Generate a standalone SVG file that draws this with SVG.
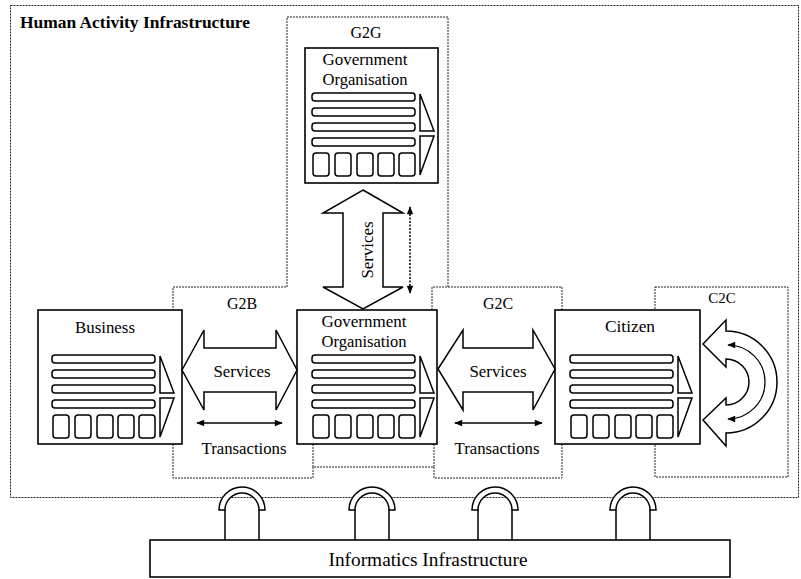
<svg xmlns="http://www.w3.org/2000/svg" width="801" height="579" viewBox="0 0 801 579">
<style>
.t{font-family:"Liberation Serif","Times New Roman","DejaVu Serif",serif;font-size:16px;fill:#000;text-anchor:middle}
.reg{fill:none;stroke:#222;stroke-width:1;stroke-dasharray:2 1}
.box{fill:#fff;stroke:#000;stroke-width:1.6}
.blk{fill:#fff;stroke:#000;stroke-width:1.5;stroke-linejoin:miter}
.tx{fill:none;stroke:#000;stroke-width:1.5;marker-start:url(#ah);marker-end:url(#ah)}
.pipe{fill:#fff;stroke:#000;stroke-width:1.5}
</style>
<defs>
<marker id="ah" viewBox="0 0 10 10" refX="9" refY="5" markerWidth="9" markerHeight="8" markerUnits="userSpaceOnUse" orient="auto-start-reverse"><path d="M0,1 L10,5 L0,9 Z" fill="#000"/></marker>
<g id="panel" fill="#fff" stroke="#000" stroke-width="1.5">
<rect x="14" y="45" width="103" height="8" rx="3"/>
<rect x="14" y="60" width="103" height="8" rx="3"/>
<rect x="14" y="75" width="103" height="8" rx="3"/>
<rect x="14" y="90" width="103" height="8" rx="3"/>
<rect x="15" y="105" width="16" height="23" rx="3"/>
<rect x="37" y="105" width="16" height="23" rx="3"/>
<rect x="59" y="105" width="16" height="23" rx="3"/>
<rect x="80" y="105" width="16" height="23" rx="3"/>
<rect x="101" y="105" width="16" height="23" rx="3"/>
<path d="M122,46 V83 H136 Z"/>
<path d="M122,88 H136 L122,127 Z"/>
</g>
</defs>

<g id="regions">
<rect class="reg" x="10.5" y="5.5" width="788" height="492"/>
<text class="t" x="20" y="28" style="text-anchor:start;font-weight:bold" textLength="230" lengthAdjust="spacingAndGlyphs">Human Activity Infrastructure</text>
<path class="reg" d="M173,287 H287 V17 H448 V287"/>
<path class="reg" d="M432,310 V287 H562 V310"/>
<path class="reg" d="M562,444 V478 H434 V467 H313 V478 H173 V287 M313,444 V467 M434,444 V467"/>
<rect class="reg" x="655" y="287" width="133" height="190"/>
<text class="t" x="366" y="38">G2G</text>
<text class="t" x="242" y="309">G2B</text>
<text class="t" x="498" y="309">G2C</text>
<text class="t" x="722" y="303" style="font-size:15px">C2C</text>
</g>

<g id="gov-g2g">
<rect class="box" x="305" y="48" width="133" height="135"/>
<text class="t" x="365" y="65" textLength="85" lengthAdjust="spacingAndGlyphs">Government</text>
<text class="t" x="365" y="85" textLength="85" lengthAdjust="spacingAndGlyphs">Organisation</text>
<use href="#panel" x="298" y="48"/>
</g>

<g id="business">
<rect class="box" x="38" y="310" width="144" height="134"/>
<text class="t" x="105" y="333" textLength="60" lengthAdjust="spacingAndGlyphs">Business</text>
<use href="#panel" x="38" y="310"/>
</g>

<g id="gov-main">
<rect class="box" x="297" y="310" width="140" height="134"/>
<text class="t" x="364" y="327" textLength="85" lengthAdjust="spacingAndGlyphs">Government</text>
<text class="t" x="364" y="347" textLength="85" lengthAdjust="spacingAndGlyphs">Organisation</text>
<use href="#panel" x="298" y="310"/>
</g>

<g id="citizen">
<rect class="box" x="555" y="310" width="145" height="134"/>
<text class="t" x="630" y="332" textLength="50" lengthAdjust="spacingAndGlyphs">Citizen</text>
<use href="#panel" x="556" y="310"/>
</g>

<g id="informatics">
<rect class="box" x="150" y="540" width="580" height="37"/>
<text class="t" x="428" y="566" style="font-size:18px" textLength="199" lengthAdjust="spacingAndGlyphs">Informatics Infrastructure</text>
</g>

<g id="connectors">
<path class="blk" d="M363,190 L403,213 L383,213 L383,287 L403,287 L363,309 L323,287 L343,287 L343,213 L323,213 Z"/>
<text class="t" transform="translate(373,250) rotate(-90)" textLength="57" lengthAdjust="spacingAndGlyphs">Services</text>
<path class="tx" d="M410,207 V293" style="stroke-dasharray:2 1.5"/>
<path class="blk" d="M182,370 L204,330 L204,348 L276,348 L276,330 L297,370 L276,410 L276,392 L204,392 L204,410 Z"/>
<text class="t" x="242" y="377" textLength="57" lengthAdjust="spacingAndGlyphs">Services</text>
<path class="tx" d="M197,423 H282"/>
<text class="t" x="244" y="454" textLength="85" lengthAdjust="spacingAndGlyphs">Transactions</text>
<path class="blk" d="M438,369 L463,330 L463,348 L533,348 L533,330 L555,369 L533,410 L533,392 L463,392 L463,410 Z"/>
<text class="t" x="498" y="377" textLength="57" lengthAdjust="spacingAndGlyphs">Services</text>
<path class="tx" d="M455,423 H542"/>
<text class="t" x="497" y="454" textLength="85" lengthAdjust="spacingAndGlyphs">Transactions</text>
<path class="blk" d="M726,331 A51,51 0 0 1 726,433 L726,446 L703,420 L726,398 L726,405 A23,23 0 0 0 726,359 L726,367 L703,344 L726,320 Z"/>
<path class="tx" d="M728,345 A37,37 0 0 1 728,419" style="stroke-width:1.2"/>
<g class="pipe">
<path d="M219,510 A23,23 0 0 1 265,510 L259,510 A17,17 0 0 0 225,510 Z"/>
<path d="M225,510 V540 M259,510 V540"/>
<path d="M349,510 A23,23 0 0 1 395,510 L389,510 A17,17 0 0 0 355,510 Z"/>
<path d="M355,510 V540 M389,510 V540"/>
<path d="M472,510 A23,23 0 0 1 518,510 L512,510 A17,17 0 0 0 478,510 Z"/>
<path d="M478,510 V540 M512,510 V540"/>
<path d="M610,510 A23,23 0 0 1 656,510 L650,510 A17,17 0 0 0 616,510 Z"/>
<path d="M616,510 V540 M650,510 V540"/>
</g>
</g>
</svg>
